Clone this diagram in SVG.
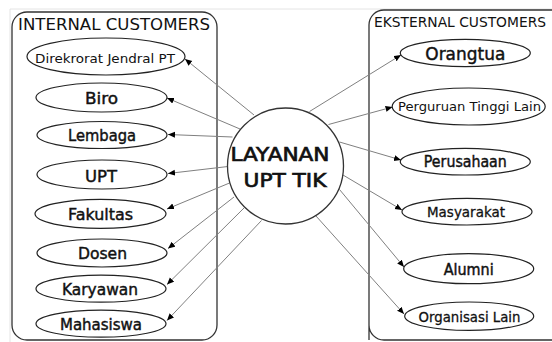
<svg xmlns="http://www.w3.org/2000/svg" width="552" height="342" viewBox="0 0 552 342">
<defs>
<style>
.frame{fill:none;stroke:#e4e4e4;stroke-width:1}
.box{fill:none;stroke:#333;stroke-width:1.3}
.node ellipse{fill:#fff;stroke:#222;stroke-width:1.2}
.hub circle{fill:#fff;stroke:#333;stroke-width:1.3}
text{font-family:"DejaVu Sans","Liberation Sans",sans-serif;fill:#111;text-anchor:middle}
.title{text-anchor:start;font-size:15px}
.lbl{font-size:16px;stroke:#111;stroke-width:0.45}
.sm{font-size:13px}
.hubt{font-size:19px;stroke:#111;stroke-width:0.7}
#connectors line{stroke:#808080;stroke-width:1;marker-end:url(#arr)}
</style>
<marker id="arr" markerUnits="userSpaceOnUse" markerWidth="8" markerHeight="7" refX="7" refY="3" orient="auto">
<path d="M0,0 L7,3 L0,6 z" fill="#000"/>
</marker>
</defs>
<rect width="552" height="342" fill="#fff"/>
<path class="frame" d="M10,342 V9 H552"/>

<g id="internal-box">
<rect class="box" x="12" y="12" width="205" height="328" rx="15"/>
<text class="title" x="18" y="30" textLength="192" lengthAdjust="spacingAndGlyphs">INTERNAL CUSTOMERS</text>
</g>
<g id="eksternal-box">
<path class="box" d="M369,340 V25 A15,15 0 0 1 384,10 H560 M369,325 A15,15 0 0 0 384,340 H560"/>
<text class="title" x="374" y="27" style="font-size:13.8px" textLength="172" lengthAdjust="spacingAndGlyphs">EKSTERNAL CUSTOMERS</text>
</g>

<g id="connectors">
<line x1="254" y1="115" x2="185" y2="59"/>
<line x1="240" y1="129" x2="167" y2="98"/>
<line x1="232.5" y1="137" x2="168" y2="134.5"/>
<line x1="228" y1="166.5" x2="168" y2="173.5"/>
<line x1="229.5" y1="183" x2="167" y2="209"/>
<line x1="234" y1="197" x2="168" y2="248.5"/>
<line x1="244" y1="208" x2="167" y2="284.5"/>
<line x1="261.5" y1="220.5" x2="167" y2="320.5"/>
<line x1="309.5" y1="111.5" x2="401" y2="55"/>
<line x1="328.5" y1="124.5" x2="392.5" y2="107"/>
<line x1="339.5" y1="142" x2="401" y2="160"/>
<line x1="343" y1="175" x2="402" y2="210"/>
<line x1="339.5" y1="189.5" x2="404" y2="267"/>
<line x1="316" y1="216" x2="404" y2="314"/>
</g>

<g id="hub" class="hub">
<circle cx="285.5" cy="166" r="58"/>
<text class="hubt" x="280" y="160.7" textLength="99" lengthAdjust="spacingAndGlyphs">LAYANAN</text>
<text class="hubt" x="285" y="187.3" textLength="83" lengthAdjust="spacingAndGlyphs">UPT TIK</text>
</g>

<g id="direkrorat" class="node"><ellipse cx="106" cy="56.5" rx="79" ry="18.5"/><text class="sm" x="105" y="63.3" textLength="140" lengthAdjust="spacingAndGlyphs">Direkrorat Jendral PT</text></g>
<g id="biro" class="node"><ellipse cx="101.5" cy="97.5" rx="65.5" ry="14.5"/><text class="lbl" x="101.5" y="103.5" textLength="33" lengthAdjust="spacingAndGlyphs">Biro</text></g>
<g id="lembaga" class="node"><ellipse cx="102" cy="135" rx="65" ry="13.5"/><text class="lbl" x="102" y="141" textLength="68" lengthAdjust="spacingAndGlyphs">Lembaga</text></g>
<g id="upt" class="node"><ellipse cx="102" cy="174.5" rx="65" ry="14.5"/><text class="lbl" x="101" y="181.7" textLength="32" lengthAdjust="spacingAndGlyphs">UPT</text></g>
<g id="fakultas" class="node"><ellipse cx="100.5" cy="213.8" rx="65.5" ry="14.5"/><text class="lbl" x="100.5" y="220" textLength="65" lengthAdjust="spacingAndGlyphs">Fakultas</text></g>
<g id="dosen" class="node"><ellipse cx="102" cy="253" rx="65" ry="14"/><text class="lbl" x="102.5" y="258.7" textLength="49" lengthAdjust="spacingAndGlyphs">Dosen</text></g>
<g id="karyawan" class="node"><ellipse cx="101" cy="288.7" rx="65" ry="13.5"/><text class="lbl" x="100" y="295.3" textLength="76" lengthAdjust="spacingAndGlyphs">Karyawan</text></g>
<g id="mahasiswa" class="node"><ellipse cx="101" cy="323.7" rx="65" ry="13.5"/><text class="lbl" x="101" y="330.3" textLength="82" lengthAdjust="spacingAndGlyphs">Mahasiswa</text></g>

<g id="orangtua" class="node"><ellipse cx="465.3" cy="53" rx="65" ry="13.7"/><text class="lbl" x="465.3" y="60" style="font-size:18px" textLength="80" lengthAdjust="spacingAndGlyphs">Orangtua</text></g>
<g id="perguruan" class="node"><ellipse cx="468.7" cy="106.5" rx="76.5" ry="18.5"/><text class="sm" x="469.5" y="111" textLength="143" lengthAdjust="spacingAndGlyphs">Perguruan Tinggi Lain</text></g>
<g id="perusahaan" class="node"><ellipse cx="465.3" cy="161.7" rx="65" ry="13.3"/><text class="lbl" x="465.3" y="166.7" textLength="83" lengthAdjust="spacingAndGlyphs">Perusahaan</text></g>
<g id="masyarakat" class="node"><ellipse cx="467" cy="211.7" rx="65" ry="13.3"/><text class="lbl" x="466" y="217.3" style="font-size:14.5px;stroke-width:0.3" textLength="78" lengthAdjust="spacingAndGlyphs">Masyarakat</text></g>
<g id="alumni" class="node"><ellipse cx="468.7" cy="268.7" rx="65" ry="15"/><text class="lbl" x="468.7" y="275.3" style="font-size:15px" textLength="50" lengthAdjust="spacingAndGlyphs">Alumni</text></g>
<g id="organisasi" class="node"><ellipse cx="469.2" cy="316.2" rx="64.5" ry="14.2"/><text class="lbl" x="469.5" y="322" style="font-size:14.5px;stroke-width:0.3" textLength="102" lengthAdjust="spacingAndGlyphs">Organisasi Lain</text></g>
</svg>
